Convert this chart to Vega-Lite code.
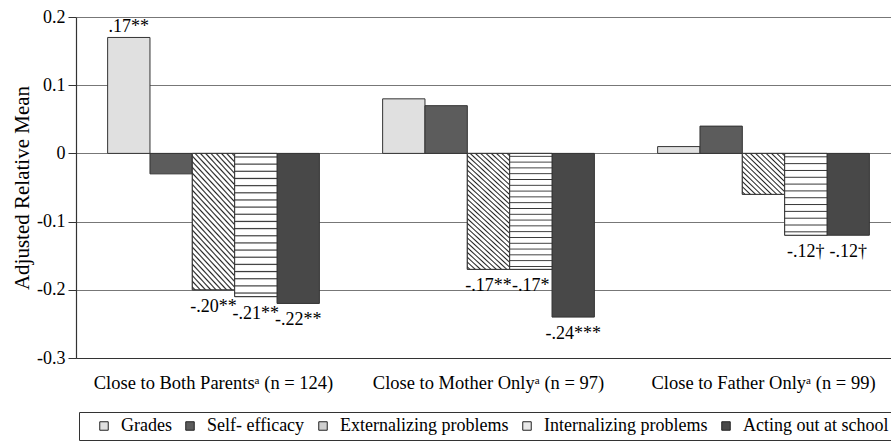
{
  "$schema": "https://vega.github.io/schema/vega-lite/v6.json",
  "autosize": {"type": "none"},
  "padding": {"left": 76, "top": 17, "right": 0, "bottom": 83},
  "width": 815,
  "height": 341,
  "background": "white",
  "config": {"font": "Liberation Serif", "view": {"stroke": null}},
  "data": {"values": [
    {"group": "Close to Both Parentsᵃ (n = 124)", "measure": "Grades", "value": 0.17, "label": ".17**"},
    {"group": "Close to Both Parentsᵃ (n = 124)", "measure": "Self- efficacy", "value": -0.03, "label": ""},
    {"group": "Close to Both Parentsᵃ (n = 124)", "measure": "Externalizing problems", "value": -0.20, "label": "-.20**"},
    {"group": "Close to Both Parentsᵃ (n = 124)", "measure": "Internalizing problems", "value": -0.21, "label": "-.21**"},
    {"group": "Close to Both Parentsᵃ (n = 124)", "measure": "Acting out at school", "value": -0.22, "label": "-.22**"},
    {"group": "Close to Mother Onlyᵃ (n = 97)", "measure": "Grades", "value": 0.08, "label": ""},
    {"group": "Close to Mother Onlyᵃ (n = 97)", "measure": "Self- efficacy", "value": 0.07, "label": ""},
    {"group": "Close to Mother Onlyᵃ (n = 97)", "measure": "Externalizing problems", "value": -0.17, "label": "-.17**"},
    {"group": "Close to Mother Onlyᵃ (n = 97)", "measure": "Internalizing problems", "value": -0.17, "label": "-.17*"},
    {"group": "Close to Mother Onlyᵃ (n = 97)", "measure": "Acting out at school", "value": -0.24, "label": "-.24***"},
    {"group": "Close to Father Onlyᵃ (n = 99)", "measure": "Grades", "value": 0.01, "label": ""},
    {"group": "Close to Father Onlyᵃ (n = 99)", "measure": "Self- efficacy", "value": 0.04, "label": ""},
    {"group": "Close to Father Onlyᵃ (n = 99)", "measure": "Externalizing problems", "value": -0.06, "label": ""},
    {"group": "Close to Father Onlyᵃ (n = 99)", "measure": "Internalizing problems", "value": -0.12, "label": "-.12†"},
    {"group": "Close to Father Onlyᵃ (n = 99)", "measure": "Acting out at school", "value": -0.12, "label": "-.12†"}
  ]},
  "encoding": {
    "x": {
      "field": "group", "type": "nominal",
      "sort": ["Close to Both Parentsᵃ (n = 124)", "Close to Mother Onlyᵃ (n = 97)", "Close to Father Onlyᵃ (n = 99)"],
      "scale": {"range": [0, 825], "paddingInner": 0.23, "paddingOuter": 0.115},
      "axis": {"title": null, "labelAngle": 0, "ticks": false, "domainColor": "#333", "domainWidth": 1.2, "labelFontSize": 18.5, "labelColor": "black", "labelPadding": 15, "labelLimit": 0, "grid": false}
    },
    "xOffset": {
      "field": "measure", "type": "nominal",
      "sort": ["Grades", "Self- efficacy", "Externalizing problems", "Internalizing problems", "Acting out at school"],
      "scale": {"domain": ["Grades", "Self- efficacy", "Externalizing problems", "Internalizing problems", "Acting out at school"], "paddingInner": 0, "paddingOuter": 0}
    },
    "y": {
      "field": "value", "type": "quantitative", "stack": null,
      "scale": {"domain": [-0.3, 0.2], "nice": false},
      "axis": {
        "title": "Adjusted Relative Mean", "titleFontSize": 21, "titleFontWeight": "normal", "titleColor": "black", "titlePadding": 4,
        "values": [-0.3, -0.2, -0.1, 0, 0.1, 0.2],
        "labelExpr": "toString(round(datum.value*10)/10)",
        "labelFontSize": 18, "labelColor": "black", "labelPadding": 3,
        "tickSize": 8, "tickColor": "#333", "domainColor": "#333", "domainWidth": 1.2,
        "grid": true, "gridColor": "#777", "gridWidth": 1
      }
    }
  },
  "layer": [
    {
      "mark": {"type": "bar", "stroke": "#333", "strokeWidth": 1},
      "encoding": {
        "color": {
          "field": "measure", "type": "nominal",
          "scale": {"domain": ["Grades", "Self- efficacy", "Externalizing problems", "Internalizing problems", "Acting out at school"], "range": ["#e0e0e0", "#5c5c5c", "#cfcfcf", "#e8e8e8", "#484848"]},
          "legend": {
            "title": "\u00a0", "titleOrient": "left", "titlePadding": 11, "titleFontSize": 18,
            "orient": "none", "legendX": 3, "legendY": 395, "direction": "horizontal", "columns": 5,
            "symbolType": "square", "symbolSize": 72, "symbolStrokeColor": "#222", "symbolStrokeWidth": 1, "symbolOpacity": 1,
            "labelFontSize": 18, "labelColor": "black", "labelOffset": 8, "labelLimit": 0, "columnPadding": 9,
            "padding": 5, "strokeColor": "#333", "fillColor": "white"
          }
        }
      }
    },
    {
      "transform": [{"filter": "datum.measure == 'Externalizing problems' && indexof(datum.group, 'Father') < 0"}],
      "mark": {"type": "bar", "stroke": "#333", "strokeWidth": 1, "fill": {"gradient": "linear", "x1": 0, "y1": 1, "x2": 0.403, "y2": -0.2, "stops": [
        {"offset": 0, "color": "#fff"},
        {"offset": 0.0066, "color": "#fff"}, {"offset": 0.0156, "color": "#222"}, {"offset": 0.0246, "color": "#fff"},
        {"offset": 0.0379, "color": "#fff"}, {"offset": 0.0469, "color": "#222"}, {"offset": 0.0559, "color": "#fff"},
        {"offset": 0.0691, "color": "#fff"}, {"offset": 0.0781, "color": "#222"}, {"offset": 0.0871, "color": "#fff"},
        {"offset": 0.1004, "color": "#fff"}, {"offset": 0.1094, "color": "#222"}, {"offset": 0.1184, "color": "#fff"},
        {"offset": 0.1316, "color": "#fff"}, {"offset": 0.1406, "color": "#222"}, {"offset": 0.1496, "color": "#fff"},
        {"offset": 0.1629, "color": "#fff"}, {"offset": 0.1719, "color": "#222"}, {"offset": 0.1809, "color": "#fff"},
        {"offset": 0.1941, "color": "#fff"}, {"offset": 0.2031, "color": "#222"}, {"offset": 0.2121, "color": "#fff"},
        {"offset": 0.2254, "color": "#fff"}, {"offset": 0.2344, "color": "#222"}, {"offset": 0.2434, "color": "#fff"},
        {"offset": 0.2566, "color": "#fff"}, {"offset": 0.2656, "color": "#222"}, {"offset": 0.2746, "color": "#fff"},
        {"offset": 0.2879, "color": "#fff"}, {"offset": 0.2969, "color": "#222"}, {"offset": 0.3059, "color": "#fff"},
        {"offset": 0.3191, "color": "#fff"}, {"offset": 0.3281, "color": "#222"}, {"offset": 0.3371, "color": "#fff"},
        {"offset": 0.3504, "color": "#fff"}, {"offset": 0.3594, "color": "#222"}, {"offset": 0.3684, "color": "#fff"},
        {"offset": 0.3816, "color": "#fff"}, {"offset": 0.3906, "color": "#222"}, {"offset": 0.3996, "color": "#fff"},
        {"offset": 0.4129, "color": "#fff"}, {"offset": 0.4219, "color": "#222"}, {"offset": 0.4309, "color": "#fff"},
        {"offset": 0.4441, "color": "#fff"}, {"offset": 0.4531, "color": "#222"}, {"offset": 0.4621, "color": "#fff"},
        {"offset": 0.4754, "color": "#fff"}, {"offset": 0.4844, "color": "#222"}, {"offset": 0.4934, "color": "#fff"},
        {"offset": 0.5066, "color": "#fff"}, {"offset": 0.5156, "color": "#222"}, {"offset": 0.5246, "color": "#fff"},
        {"offset": 0.5379, "color": "#fff"}, {"offset": 0.5469, "color": "#222"}, {"offset": 0.5559, "color": "#fff"},
        {"offset": 0.5691, "color": "#fff"}, {"offset": 0.5781, "color": "#222"}, {"offset": 0.5871, "color": "#fff"},
        {"offset": 0.6004, "color": "#fff"}, {"offset": 0.6094, "color": "#222"}, {"offset": 0.6184, "color": "#fff"},
        {"offset": 0.6316, "color": "#fff"}, {"offset": 0.6406, "color": "#222"}, {"offset": 0.6496, "color": "#fff"},
        {"offset": 0.6629, "color": "#fff"}, {"offset": 0.6719, "color": "#222"}, {"offset": 0.6809, "color": "#fff"},
        {"offset": 0.6941, "color": "#fff"}, {"offset": 0.7031, "color": "#222"}, {"offset": 0.7121, "color": "#fff"},
        {"offset": 0.7254, "color": "#fff"}, {"offset": 0.7344, "color": "#222"}, {"offset": 0.7434, "color": "#fff"},
        {"offset": 0.7566, "color": "#fff"}, {"offset": 0.7656, "color": "#222"}, {"offset": 0.7746, "color": "#fff"},
        {"offset": 0.7879, "color": "#fff"}, {"offset": 0.7969, "color": "#222"}, {"offset": 0.8059, "color": "#fff"},
        {"offset": 0.8191, "color": "#fff"}, {"offset": 0.8281, "color": "#222"}, {"offset": 0.8371, "color": "#fff"},
        {"offset": 0.8504, "color": "#fff"}, {"offset": 0.8594, "color": "#222"}, {"offset": 0.8684, "color": "#fff"},
        {"offset": 0.8816, "color": "#fff"}, {"offset": 0.8906, "color": "#222"}, {"offset": 0.8996, "color": "#fff"},
        {"offset": 0.9129, "color": "#fff"}, {"offset": 0.9219, "color": "#222"}, {"offset": 0.9309, "color": "#fff"},
        {"offset": 0.9441, "color": "#fff"}, {"offset": 0.9531, "color": "#222"}, {"offset": 0.9621, "color": "#fff"},
        {"offset": 0.9754, "color": "#fff"}, {"offset": 0.9844, "color": "#222"}, {"offset": 0.9934, "color": "#fff"},
        {"offset": 1, "color": "#fff"}
      ]}}
    },
    {
      "transform": [{"filter": "datum.measure == 'Externalizing problems' && indexof(datum.group, 'Father') >= 0"}],
      "mark": {"type": "bar", "stroke": "#333", "strokeWidth": 1, "fill": {"gradient": "linear", "x1": 0, "y1": 1, "x2": 1, "y2": 0, "stops": [
        {"offset": 0, "color": "#fff"},
        {"offset": 0.0143, "color": "#fff"}, {"offset": 0.0313, "color": "#222"}, {"offset": 0.0483, "color": "#fff"},
        {"offset": 0.0768, "color": "#fff"}, {"offset": 0.0938, "color": "#222"}, {"offset": 0.1108, "color": "#fff"},
        {"offset": 0.1393, "color": "#fff"}, {"offset": 0.1563, "color": "#222"}, {"offset": 0.1733, "color": "#fff"},
        {"offset": 0.2018, "color": "#fff"}, {"offset": 0.2188, "color": "#222"}, {"offset": 0.2358, "color": "#fff"},
        {"offset": 0.2643, "color": "#fff"}, {"offset": 0.2813, "color": "#222"}, {"offset": 0.2983, "color": "#fff"},
        {"offset": 0.3268, "color": "#fff"}, {"offset": 0.3438, "color": "#222"}, {"offset": 0.3608, "color": "#fff"},
        {"offset": 0.3893, "color": "#fff"}, {"offset": 0.4063, "color": "#222"}, {"offset": 0.4233, "color": "#fff"},
        {"offset": 0.4518, "color": "#fff"}, {"offset": 0.4688, "color": "#222"}, {"offset": 0.4858, "color": "#fff"},
        {"offset": 0.5143, "color": "#fff"}, {"offset": 0.5313, "color": "#222"}, {"offset": 0.5483, "color": "#fff"},
        {"offset": 0.5768, "color": "#fff"}, {"offset": 0.5938, "color": "#222"}, {"offset": 0.6108, "color": "#fff"},
        {"offset": 0.6393, "color": "#fff"}, {"offset": 0.6563, "color": "#222"}, {"offset": 0.6733, "color": "#fff"},
        {"offset": 0.7018, "color": "#fff"}, {"offset": 0.7188, "color": "#222"}, {"offset": 0.7358, "color": "#fff"},
        {"offset": 0.7643, "color": "#fff"}, {"offset": 0.7813, "color": "#222"}, {"offset": 0.7983, "color": "#fff"},
        {"offset": 0.8268, "color": "#fff"}, {"offset": 0.8438, "color": "#222"}, {"offset": 0.8608, "color": "#fff"},
        {"offset": 0.8893, "color": "#fff"}, {"offset": 0.9063, "color": "#222"}, {"offset": 0.9233, "color": "#fff"},
        {"offset": 0.9518, "color": "#fff"}, {"offset": 0.9688, "color": "#222"}, {"offset": 0.9858, "color": "#fff"},
        {"offset": 1, "color": "#fff"}
      ]}}
    },
    {
      "transform": [{"filter": "datum.measure == 'Internalizing problems' && indexof(datum.group, 'Father') < 0"}],
      "mark": {"type": "bar", "stroke": "#333", "strokeWidth": 1, "fill": {"gradient": "linear", "x1": 0, "y1": 0, "x2": 0, "y2": 1, "stops": [
        {"offset": 0, "color": "#fff"},
        {"offset": 0.017, "color": "#fff"}, {"offset": 0.025, "color": "#333"}, {"offset": 0.033, "color": "#fff"},
        {"offset": 0.067, "color": "#fff"}, {"offset": 0.075, "color": "#333"}, {"offset": 0.083, "color": "#fff"},
        {"offset": 0.117, "color": "#fff"}, {"offset": 0.125, "color": "#333"}, {"offset": 0.133, "color": "#fff"},
        {"offset": 0.167, "color": "#fff"}, {"offset": 0.175, "color": "#333"}, {"offset": 0.183, "color": "#fff"},
        {"offset": 0.217, "color": "#fff"}, {"offset": 0.225, "color": "#333"}, {"offset": 0.233, "color": "#fff"},
        {"offset": 0.267, "color": "#fff"}, {"offset": 0.275, "color": "#333"}, {"offset": 0.283, "color": "#fff"},
        {"offset": 0.317, "color": "#fff"}, {"offset": 0.325, "color": "#333"}, {"offset": 0.333, "color": "#fff"},
        {"offset": 0.367, "color": "#fff"}, {"offset": 0.375, "color": "#333"}, {"offset": 0.383, "color": "#fff"},
        {"offset": 0.417, "color": "#fff"}, {"offset": 0.425, "color": "#333"}, {"offset": 0.433, "color": "#fff"},
        {"offset": 0.467, "color": "#fff"}, {"offset": 0.475, "color": "#333"}, {"offset": 0.483, "color": "#fff"},
        {"offset": 0.517, "color": "#fff"}, {"offset": 0.525, "color": "#333"}, {"offset": 0.533, "color": "#fff"},
        {"offset": 0.567, "color": "#fff"}, {"offset": 0.575, "color": "#333"}, {"offset": 0.583, "color": "#fff"},
        {"offset": 0.617, "color": "#fff"}, {"offset": 0.625, "color": "#333"}, {"offset": 0.633, "color": "#fff"},
        {"offset": 0.667, "color": "#fff"}, {"offset": 0.675, "color": "#333"}, {"offset": 0.683, "color": "#fff"},
        {"offset": 0.717, "color": "#fff"}, {"offset": 0.725, "color": "#333"}, {"offset": 0.733, "color": "#fff"},
        {"offset": 0.767, "color": "#fff"}, {"offset": 0.775, "color": "#333"}, {"offset": 0.783, "color": "#fff"},
        {"offset": 0.817, "color": "#fff"}, {"offset": 0.825, "color": "#333"}, {"offset": 0.833, "color": "#fff"},
        {"offset": 0.867, "color": "#fff"}, {"offset": 0.875, "color": "#333"}, {"offset": 0.883, "color": "#fff"},
        {"offset": 0.917, "color": "#fff"}, {"offset": 0.925, "color": "#333"}, {"offset": 0.933, "color": "#fff"},
        {"offset": 0.967, "color": "#fff"}, {"offset": 0.975, "color": "#333"}, {"offset": 0.983, "color": "#fff"},
        {"offset": 1, "color": "#fff"}
      ]}}
    },
    {
      "transform": [{"filter": "datum.measure == 'Internalizing problems' && indexof(datum.group, 'Father') >= 0"}],
      "mark": {"type": "bar", "stroke": "#333", "strokeWidth": 1, "fill": {"gradient": "linear", "x1": 0, "y1": 0, "x2": 0, "y2": 1, "stops": [
        {"offset": 0, "color": "#fff"},
        {"offset": 0.0297, "color": "#fff"}, {"offset": 0.0417, "color": "#333"}, {"offset": 0.0537, "color": "#fff"},
        {"offset": 0.113, "color": "#fff"}, {"offset": 0.125, "color": "#333"}, {"offset": 0.137, "color": "#fff"},
        {"offset": 0.1963, "color": "#fff"}, {"offset": 0.2083, "color": "#333"}, {"offset": 0.2203, "color": "#fff"},
        {"offset": 0.2797, "color": "#fff"}, {"offset": 0.2917, "color": "#333"}, {"offset": 0.3037, "color": "#fff"},
        {"offset": 0.363, "color": "#fff"}, {"offset": 0.375, "color": "#333"}, {"offset": 0.387, "color": "#fff"},
        {"offset": 0.4463, "color": "#fff"}, {"offset": 0.4583, "color": "#333"}, {"offset": 0.4703, "color": "#fff"},
        {"offset": 0.5297, "color": "#fff"}, {"offset": 0.5417, "color": "#333"}, {"offset": 0.5537, "color": "#fff"},
        {"offset": 0.613, "color": "#fff"}, {"offset": 0.625, "color": "#333"}, {"offset": 0.637, "color": "#fff"},
        {"offset": 0.6963, "color": "#fff"}, {"offset": 0.7083, "color": "#333"}, {"offset": 0.7203, "color": "#fff"},
        {"offset": 0.7797, "color": "#fff"}, {"offset": 0.7917, "color": "#333"}, {"offset": 0.8037, "color": "#fff"},
        {"offset": 0.863, "color": "#fff"}, {"offset": 0.875, "color": "#333"}, {"offset": 0.887, "color": "#fff"},
        {"offset": 0.9463, "color": "#fff"}, {"offset": 0.9583, "color": "#333"}, {"offset": 0.9703, "color": "#fff"},
        {"offset": 1, "color": "#fff"}
      ]}}
    },
    {
      "transform": [{"filter": "datum.label != '' && datum.value < 0"}],
      "mark": {"type": "text", "baseline": "top", "dy": 8, "fontSize": 18, "color": "black"},
      "encoding": {"text": {"field": "label"}}
    },
    {
      "transform": [{"filter": "datum.label != '' && datum.value > 0"}],
      "mark": {"type": "text", "baseline": "bottom", "dy": -1, "fontSize": 18, "color": "black"},
      "encoding": {"text": {"field": "label"}}
    }
  ]
}
